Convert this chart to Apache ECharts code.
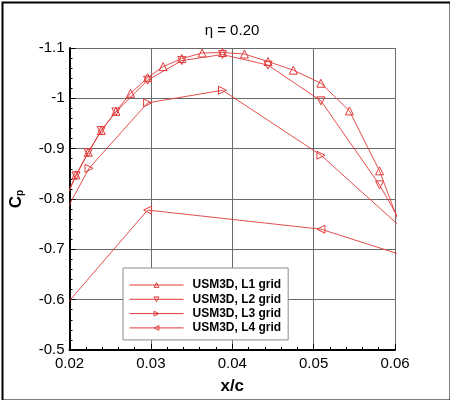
<!DOCTYPE html>
<html>
<head>
<meta charset="utf-8">
<script src="https://cdn.jsdelivr.net/npm/echarts@6/dist/echarts.min.js"></script>
<style>
html,body{margin:0;padding:0;background:#fff;}
#chart{width:450px;height:400px;}
</style>
</head>
<body>
<div id="chart"></div>
<script>
// ---- data ----
var seriesNames = ['USM3D, L1 grid', 'USM3D, L2 grid', 'USM3D, L3 grid', 'USM3D, L4 grid'];

var l1X = [0.0192, 0.0208, 0.0223, 0.0239, 0.0257, 0.0275, 0.0296, 0.0315, 0.0338, 0.0363, 0.0388, 0.0415, 0.0444, 0.0475, 0.0509, 0.0544, 0.0581, 0.0608];
var l1Y = [-0.790, -0.848, -0.893, -0.936, -0.974, -1.010, -1.041, -1.063, -1.079, -1.090, -1.091, -1.088, -1.073, -1.056, -1.030, -0.975, -0.856, -0.739];

var l2X = [0.0192, 0.0208, 0.0223, 0.0239, 0.0257, 0.0296, 0.0338, 0.0388, 0.0444, 0.0509, 0.0581, 0.0608];
var l2Y = [-0.790, -0.846, -0.892, -0.936, -0.973, -1.036, -1.075, -1.087, -1.066, -0.995, -0.828, -0.751];

var l3X = [0.0192, 0.0224, 0.0296, 0.0388, 0.0509, 0.0608];
var l3Y = [-0.765, -0.861, -0.991, -1.016, -0.887, -0.743];

var l4X = [0.0192, 0.0296, 0.0509, 0.0608];
var l4Y = [-0.583, -0.778, -0.740, -0.689];

var xTicks = [0.02, 0.03, 0.04, 0.05, 0.06];
var yTicks = [-1.1, -1, -0.9, -0.8, -0.7, -0.6, -0.5];

var titleText = '\u03b7 = 0.20';
var xName = 'x/c';

// ---- build ----
function pairs(xs, ys) { return xs.map(function (x, i) { return [x, ys[i]]; }); }
var allX = [l1X, l2X, l3X, l4X];
var allY = [l1Y, l2Y, l3Y, l4Y];
var rotations = [0, 180, -90, 90];
var RED = '#e23a3a';
var CLEAR = 'rgba(255,255,255,0)';
var FONT = 'Liberation Sans, Arial, sans-serif';

var series = seriesNames.map(function (n, i) {
  return {
    name: n,
    type: 'line',
    data: pairs(allX[i], allY[i]),
    clip: true,
    symbol: 'triangle',
    symbolSize: 8,
    symbolRotate: rotations[i],
    showAllSymbol: true,
    lineStyle: { color: RED, width: 0.9 },
    itemStyle: { color: CLEAR, borderColor: RED, borderWidth: 1 },
    emphasis: { disabled: true },
    animation: false,
    z: 3 + i
  };
});

var chart = echarts.init(document.getElementById('chart'), null, { renderer: 'canvas' });
chart.setOption({
  animation: false,
  backgroundColor: '#fff',
  title: {
    text: titleText,
    left: 227, top: 18,
    textAlign: 'center',
    textStyle: { fontFamily: FONT, fontSize: 15, fontWeight: 'normal', color: '#000' }
  },
  grid: { left: 59, right: 55, top: 48, bottom: 46 },
  xAxis: {
    type: 'value',
    min: xTicks[0], max: xTicks[xTicks.length - 1], interval: 0.01,
    name: xName, nameLocation: 'middle', nameGap: 28,
    nameTextStyle: { fontFamily: FONT, fontSize: 17, fontWeight: 'bold', color: '#000' },
    axisLine: { show: true, onZero: false, lineStyle: { color: '#000', width: 2 } },
    axisTick: { show: true, inside: true, length: 6, lineStyle: { color: '#000', width: 1 } },
    minorTick: { show: true, splitNumber: 5, length: 3, lineStyle: { color: '#000', width: 1 } },
    axisLabel: { fontFamily: FONT, fontSize: 15, color: '#000', margin: 6 },
    splitLine: { show: true, lineStyle: { color: '#6a6a6a', width: 1 } }
  },
  yAxis: {
    type: 'value',
    inverse: true,
    min: yTicks[0], max: yTicks[yTicks.length - 1], interval: 0.1,
    name: '{c|C}{p|p}', nameLocation: 'middle', nameGap: 44, nameRotate: 90,
    nameTextStyle: {
      color: '#000',
      rich: {
        c: { fontFamily: FONT, fontSize: 17, fontWeight: 'bold', color: '#000' },
        p: { fontFamily: FONT, fontSize: 10, fontWeight: 'bold', color: '#000', padding: [8, 0, 0, 0] }
      }
    },
    axisLine: { show: true, onZero: false, lineStyle: { color: '#000', width: 2 } },
    axisTick: { show: true, inside: true, length: 6, lineStyle: { color: '#000', width: 1 } },
    minorTick: { show: true, splitNumber: 5, length: 3, lineStyle: { color: '#000', width: 1 } },
    axisLabel: { fontFamily: FONT, fontSize: 15, color: '#000', margin: 5 },
    splitLine: { show: true, lineStyle: { color: '#6a6a6a', width: 1 } }
  },
  legend: {
    show: true,
    orient: 'vertical',
    left: 123, top: 268,
    data: seriesNames,
    backgroundColor: '#fff',
    borderColor: '#8a8a8a', borderWidth: 1, borderRadius: 0,
    padding: [11, 7, 6, 6],
    itemWidth: 54, itemHeight: 6, itemGap: 2.3,
    selectedMode: false,
    itemStyle: { color: CLEAR, borderColor: RED, borderWidth: 1 },
    lineStyle: { color: RED, width: 1 },
    textStyle: { fontFamily: FONT, fontSize: 12, fontWeight: 'bold', color: '#000', lineHeight: 12, padding: [0, 0, 0, 4] }
  },
  graphic: [{
    type: 'rect', left: 0, top: 0, silent: true, z: 100,
    shape: { x: 1, y: 1, width: 448, height: 398 },
    style: { fill: 'none', stroke: '#000', lineWidth: 2 }
  }],
  series: series
});
</script>
</body>
</html>
